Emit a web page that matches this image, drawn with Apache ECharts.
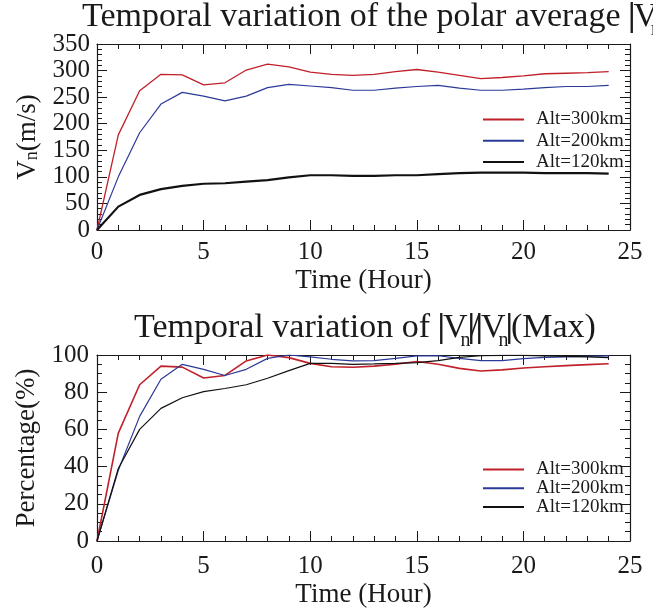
<!DOCTYPE html>
<html>
<head>
<meta charset="utf-8">
<script src="https://cdn.jsdelivr.net/npm/echarts@6/dist/echarts.min.js"></script>
<style>html,body{margin:0;padding:0;background:#fff}#c{width:653px;height:611px}</style>
</head>
<body>
<div id="c"></div>
<script>
var hours = [0,1,2,3,4,5,6,7,8,9,10,11,12,13,14,15,16,17,18,19,20,21,22,23,24];
var speed300 = [0,179,262,293,292,273,277,301,312,307,297,293,291,293,298,302,297,291,285,287,290,294,295,296,298];
var speed200 = [0,100,183,237,259,252,243,252,268,274,271,268,263,263,267,270,272,267,263,263,265,268,270,270,272];
var speed120 = [0,44,66,77,83,87,88,91,94,99,103,103,102,102,103,103,105,107,108,108,108,107,107,107,106];
var pct300 = [0,58,84,94,93.5,87.6,89,96.8,100,98.6,95.5,93.7,93.4,94,95,96.5,95,92.8,91.4,92,93,93.7,94.3,94.8,95.3];
var pct200 = [0,38,67,87,95,92.3,89,92.3,98.2,100,99,97.7,96.8,97,98.2,99.5,99.6,98.2,97,97,98,98.7,99,99.3,99.5];
var pct120 = [0,39,60,71.3,77,80.3,82,84,87.5,91.6,95.5,95.5,95,95.2,95.5,95.9,97,98.7,99.6,99.8,99.8,99.5,99.3,99,98.6];
var seriesNames = ['Alt=300km','Alt=200km','Alt=120km'];
var xTicks = {min:0, max:25, interval:5, minor:5};
var yTicksTop = {min:0, max:350, interval:50, minor:5};
var yTicksBot = {min:0, max:100, interval:20, minor:4};

var FONT = '"Liberation Serif", "Times New Roman", serif';
var INK = '#1a1a1a';
var RED = '#c0202a', BLUE = '#2b3a98', BLACK = '#111111';

function pair(d){ return hours.map(function(h,i){ return [h, d[i]]; }); }

function axis(kind, t, grid, pos, show, extra){
  var a = {
    type:'value', gridIndex:grid, position:pos, min:t.min, max:t.max, interval:t.interval,
    axisLine:{show:true, onZero:false, lineStyle:{color:INK, width:1.2}},
    axisTick:{show:true, inside:true, length:10, lineStyle:{color:INK, width:1}},
    minorTick:{show:true, splitNumber:t.minor, length:5, lineStyle:{color:INK, width:1}},
    splitLine:{show:false}, minorSplitLine:{show:false},
    axisLabel:{show:show, fontFamily:FONT, fontSize:25, color:INK, margin:10, showMinLabel:true, showMaxLabel:true}
  };
  if (extra) for (var k in extra) {
    if (typeof extra[k]==='object' && a[k] && !Array.isArray(extra[k])) { for (var j in extra[k]) a[k][j]=extra[k][j]; }
    else a[k]=extra[k];
  }
  return a;
}

var nameStyle = {fontFamily:FONT, fontSize:27, color:INK, fontWeight:'normal'};
var titleRich = {
  a:{fontFamily:FONT, fontSize:34, lineHeight:34, color:INK, fontWeight:'normal', verticalAlign:'top'},
  b:{fontFamily:FONT, fontSize:34, lineHeight:34, color:INK, fontWeight:'bold', verticalAlign:'top', padding:[0,-2,0,-1]},
  d:{fontFamily:FONT, fontSize:34, lineHeight:34, color:INK, fontWeight:'normal', verticalAlign:'top', padding:[0,-3,0,-3]},
  s:{fontFamily:FONT, fontSize:20, lineHeight:20, color:INK, fontWeight:'normal', verticalAlign:'top', padding:[20,-2,0,-7]}
};
var nameRich = {
  a:{fontFamily:FONT, fontSize:27, lineHeight:27, color:INK, fontWeight:'normal', verticalAlign:'bottom'},
  s:{fontFamily:FONT, fontSize:18, lineHeight:18, color:INK, fontWeight:'normal', verticalAlign:'bottom'}
};
var legendBase = {
  orient:'vertical', left:482, padding:0, itemWidth:41, itemHeight:14, selectedMode:false,
  itemStyle:{color:'rgba(0,0,0,0)', borderWidth:0, opacity:0},
  textStyle:{fontFamily:FONT, fontSize:19, color:INK, lineHeight:14, padding:[0,0,0,7]}
};
function legendAt(top, gap){
  var l = {data:seriesNames, top:top, itemGap:gap};
  for (var k in legendBase) l[k] = legendBase[k];
  return l;
}

var option = {
  backgroundColor:'#ffffff',
  animation:false,
  title:[
    {text:'{a|Temporal variation of the polar average }{b||}{a|V}{s|n}{b||}', left:82, top:0, padding:0,
     textStyle:{rich:titleRich, fontFamily:FONT, fontSize:34, fontWeight:'normal', color:INK}},
    {text:'{a|Temporal variation of }{b||}{a|V}{s|n}{b||}{d|/}{b||}{a|V}{s|n}{b||}{a|(Max)}', left:134, top:311, padding:0,
     textStyle:{rich:titleRich, fontFamily:FONT, fontSize:34, fontWeight:'normal', color:INK}}
  ],
  grid:[
    {left:97, right:23, top:44, height:186},
    {left:97, right:23, top:355, height:186}
  ],
  xAxis:[
    axis('x', xTicks, 0, 'bottom', true, {name:'Time (Hour)', nameLocation:'middle', nameGap:37, nameTextStyle:nameStyle}),
    axis('x', xTicks, 0, 'top', false),
    axis('x', xTicks, 1, 'bottom', true, {name:'Time (Hour)', nameLocation:'middle', nameGap:40, nameTextStyle:nameStyle, axisLabel:{margin:13}}),
    axis('x', xTicks, 1, 'top', false)
  ],
  yAxis:[
    axis('y', yTicksTop, 0, 'left', true, {name:'{a|V}{s|n}{a|(m/s)}', nameLocation:'middle', nameGap:56, nameTextStyle:{fontFamily:FONT, fontSize:27, fontWeight:'normal', color:INK, rich:nameRich}, axisLabel:{margin:7}}),
    axis('y', yTicksTop, 0, 'right', false),
    axis('y', yTicksBot, 1, 'left', true, {name:'Percentage(%)', nameLocation:'middle', nameGap:56, nameTextStyle:nameStyle, axisLabel:{margin:8}}),
    axis('y', yTicksBot, 1, 'right', false)
  ],
  legend:[ legendAt(110, 2.2), legendAt(460, -0.3) ],
  series:[
    {name:seriesNames[0], type:'line', xAxisIndex:0, yAxisIndex:0, data:pair(speed300), symbol:'none', color:RED, lineStyle:{color:RED, width:1.3}},
    {name:seriesNames[1], type:'line', xAxisIndex:0, yAxisIndex:0, data:pair(speed200), symbol:'none', color:BLUE, lineStyle:{color:BLUE, width:1.2}},
    {name:seriesNames[2], type:'line', xAxisIndex:0, yAxisIndex:0, data:pair(speed120), symbol:'none', color:BLACK, lineStyle:{color:BLACK, width:2.2}},
    {name:seriesNames[0], type:'line', xAxisIndex:2, yAxisIndex:2, data:pair(pct300), symbol:'none', color:RED, lineStyle:{color:RED, width:1.6}},
    {name:seriesNames[1], type:'line', xAxisIndex:2, yAxisIndex:2, data:pair(pct200), symbol:'none', color:BLUE, lineStyle:{color:BLUE, width:1.2}},
    {name:seriesNames[2], type:'line', xAxisIndex:2, yAxisIndex:2, data:pair(pct120), symbol:'none', color:BLACK, lineStyle:{color:BLACK, width:1.2}}
  ]
};
var chart = echarts.init(document.getElementById('c'), null, {renderer:'canvas'});
chart.setOption(option);
</script>
</body>
</html>
